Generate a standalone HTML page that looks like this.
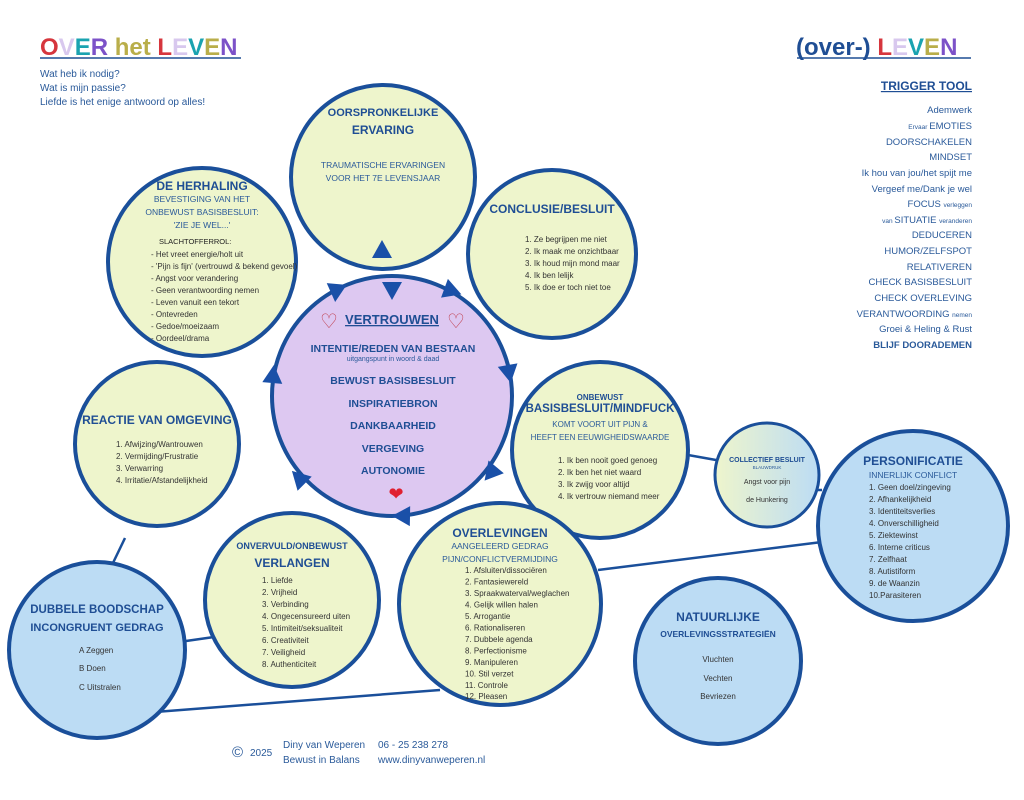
<!DOCTYPE html>
<html><head><meta charset="utf-8"><style>
html,body{margin:0;padding:0;background:#fff;}
svg{display:block;font-family:"Liberation Sans",sans-serif;}
.h{font-weight:bold;fill:#1f4e94;}
.t{fill:#333;}
.s{fill:#2a5a9a;}
</style></head><body>
<svg width="1024" height="800" viewBox="0 0 1024 800" xmlns="http://www.w3.org/2000/svg">
<g stroke="#1a4f9a" stroke-width="2.5">
<line x1="125" y1="538" x2="112" y2="565"/>
<line x1="186" y1="641" x2="214" y2="637"/>
<line x1="155" y1="712" x2="440" y2="690"/>
<line x1="598" y1="570" x2="822" y2="542"/>
<line x1="688" y1="455" x2="716" y2="460"/>
<line x1="817" y1="490" x2="822" y2="490"/>
</g>
<g stroke="#1a4f9a" stroke-width="4">
<circle cx="383" cy="177" r="92" fill="#eef5cc"/>
<circle cx="552" cy="254" r="84" fill="#eef5cc"/>
<circle cx="202" cy="262" r="94" fill="#eef5cc"/>
<circle cx="157" cy="444" r="82" fill="#eef5cc"/>
<circle cx="600" cy="450" r="88" fill="#eef5cc"/>
<circle cx="292" cy="600" r="87" fill="#eef5cc"/>
<circle cx="500" cy="604" r="101" fill="#eef5cc"/>
<circle cx="97" cy="650" r="88" fill="#bcdcf4"/>
<circle cx="913" cy="526" r="95" fill="#bcdcf4"/>
<circle cx="718" cy="661" r="83" fill="#bcdcf4"/>
<circle cx="392" cy="396" r="120" fill="#ddc8f1"/>
</g>
<defs><linearGradient id="g" x1="0" x2="1"><stop offset="0" stop-color="#eef5cc"/><stop offset="1" stop-color="#bcdcf4"/></linearGradient></defs>
<circle cx="767" cy="475" r="52" fill="url(#g)" stroke="#1a4f9a" stroke-width="3"/>
<g fill="#1a50a8">
<polygon points="382,240 372,258 392,258"/>
<g transform="translate(392,290) rotate(90)"><polygon points="10,0 -8,-10 -8,10"/></g>
<g transform="translate(336,292) rotate(95)"><polygon points="10,0 -8,-10 -8,10"/></g>
<g transform="translate(452,291) rotate(20)"><polygon points="10,0 -8,-10 -8,10"/></g>
<g transform="translate(509,373) rotate(80)"><polygon points="10,0 -8,-10 -8,10"/></g>
<g transform="translate(491,473) rotate(130)"><polygon points="10,0 -8,-10 -8,10"/></g>
<g transform="translate(402,516) rotate(181)"><polygon points="10,0 -8,-10 -8,10"/></g>
<g transform="translate(299,478) rotate(225)"><polygon points="10,0 -8,-10 -8,10"/></g>
<g transform="translate(273,375) rotate(275)"><polygon points="10,0 -8,-10 -8,10"/></g>
</g>
<g font-size="24" font-weight="bold">
<text x="40" y="55"><tspan fill="#d6363d">O</tspan><tspan fill="#d8c8ee">V</tspan><tspan fill="#1aa3b0">E</tspan><tspan fill="#7c52c8">R</tspan> <tspan fill="#b9ae4a">het</tspan> <tspan fill="#d6363d">L</tspan><tspan fill="#d8c8ee">E</tspan><tspan fill="#1aa3b0">V</tspan><tspan fill="#b9ae4a">E</tspan><tspan fill="#7c52c8">N</tspan></text>
<text x="796" y="55"><tspan fill="#1f4e94">(over-)</tspan> <tspan fill="#d6363d">L</tspan><tspan fill="#d8c8ee">E</tspan><tspan fill="#1aa3b0">V</tspan><tspan fill="#b9ae4a">E</tspan><tspan fill="#7c52c8">N</tspan></text>
</g>
<line x1="40" y1="58" x2="241" y2="58" stroke="#1f4e94" stroke-width="1.5"/>
<line x1="797" y1="58" x2="971" y2="58" stroke="#1f4e94" stroke-width="1.5"/>
<g class="s" font-size="10">
<text x="40" y="77">Wat heb ik nodig?</text>
<text x="40" y="91">Wat is mijn passie?</text>
<text x="40" y="105">Liefde is het enige antwoord op alles!</text>
</g>
<g class="s" text-anchor="end" font-size="9.5">
<text x="972" y="90" class="h" font-size="12" text-decoration="underline">TRIGGER TOOL</text>
<text x="972" y="113">Ademwerk</text>
<text x="972" y="129"><tspan font-size="6.5">Ervaar </tspan>EMOTIES</text>
<text x="972" y="145">DOORSCHAKELEN</text>
<text x="972" y="160">MINDSET</text>
<text x="972" y="176">Ik hou van jou/het spijt me</text>
<text x="972" y="192">Vergeef me/Dank je wel</text>
<text x="972" y="207">FOCUS <tspan font-size="6.5">verleggen</tspan></text>
<text x="972" y="223"><tspan font-size="6.5">van </tspan>SITUATIE <tspan font-size="6.5">veranderen</tspan></text>
<text x="972" y="238">DEDUCEREN</text>
<text x="972" y="254">HUMOR/ZELFSPOT</text>
<text x="972" y="270">RELATIVEREN</text>
<text x="972" y="285">CHECK BASISBESLUIT</text>
<text x="972" y="301">CHECK OVERLEVING</text>
<text x="972" y="317">VERANTWOORDING <tspan font-size="6.5">nemen</tspan></text>
<text x="972" y="332">Groei &amp; Heling &amp; Rust</text>
<text x="972" y="348" font-weight="bold">BLIJF DOORADEMEN</text>
</g>
<g text-anchor="middle">
<text x="383" y="116" class="h" font-size="11">OORSPRONKELIJKE</text>
<text x="383" y="134" class="h" font-size="12">ERVARING</text>
<text x="383" y="168" class="s" font-size="8.5">TRAUMATISCHE ERVARINGEN</text>
<text x="383" y="181" class="s" font-size="8.5">VOOR HET 7E LEVENSJAAR</text>

<text x="552" y="213" class="h" font-size="12">CONCLUSIE/BESLUIT</text>

<text x="202" y="190" class="h" font-size="12">DE HERHALING</text>
<text x="202" y="202" class="s" font-size="8.5">BEVESTIGING VAN HET</text>
<text x="202" y="215" class="s" font-size="8.5">ONBEWUST BASISBESLUIT:</text>
<text x="202" y="228" class="s" font-size="8.5">'ZIE JE WEL...'</text>

<text x="157" y="424" class="h" font-size="12">REACTIE VAN OMGEVING</text>

<text x="600" y="400" class="h" font-size="8">ONBEWUST</text>
<text x="600" y="412" class="h" font-size="11.5">BASISBESLUIT/MINDFUCK</text>
<text x="600" y="427" class="s" font-size="8">KOMT VOORT UIT PIJN &amp;</text>
<text x="600" y="440" class="s" font-size="8">HEEFT EEN EEUWIGHEIDSWAARDE</text>

<text x="292" y="549" class="h" font-size="9">ONVERVULD/ONBEWUST</text>
<text x="292" y="567" class="h" font-size="12">VERLANGEN</text>

<text x="500" y="537" class="h" font-size="12">OVERLEVINGEN</text>
<text x="500" y="549" class="s" font-size="8.5">AANGELEERD GEDRAG</text>
<text x="500" y="562" class="s" font-size="8.5">PIJN/CONFLICTVERMIJDING</text>

<text x="97" y="613" class="h" font-size="11.5">DUBBELE BOODSCHAP</text>
<text x="97" y="631" class="h" font-size="11">INCONGRUENT GEDRAG</text>

<text x="767" y="462" class="h" font-size="7">COLLECTIEF BESLUIT</text>
<text x="767" y="469" class="s" font-size="4.5">BLAUWDRUK</text>
<text x="767" y="484" class="t" font-size="7">Angst voor pijn</text>
<text x="767" y="502" class="t" font-size="7">de Hunkering</text>

<text x="913" y="465" class="h" font-size="12">PERSONIFICATIE</text>
<text x="913" y="478" class="s" font-size="8.5">INNERLIJK CONFLICT</text>

<text x="718" y="621" class="h" font-size="12">NATUURLIJKE</text>
<text x="718" y="637" class="h" font-size="8.5">OVERLEVINGSSTRATEGIËN</text>
<text x="718" y="662" class="t" font-size="8">Vluchten</text>
<text x="718" y="681" class="t" font-size="8">Vechten</text>
<text x="718" y="699" class="t" font-size="8">Bevriezen</text>

<text x="392" y="324" class="h" font-size="13" text-decoration="underline">VERTROUWEN</text>
<text x="393" y="352" class="h" font-size="10.5">INTENTIE/REDEN VAN BESTAAN</text>
<text x="393" y="361" class="s" font-size="7">uitgangspunt in woord &amp; daad</text>
<text x="393" y="384" class="h" font-size="10.5">BEWUST BASISBESLUIT</text>
<text x="393" y="407" class="h" font-size="10.5">INSPIRATIEBRON</text>
<text x="393" y="429" class="h" font-size="10.5">DANKBAARHEID</text>
<text x="393" y="452" class="h" font-size="10.5">VERGEVING</text>
<text x="393" y="474" class="h" font-size="10.5">AUTONOMIE</text>
<text x="396" y="500" font-size="18" fill="#e02030">❤</text>
<text x="329" y="328" font-size="20" fill="#c04050">♡</text>
<text x="456" y="328" font-size="20" fill="#c04050">♡</text>
</g>
<g class="t" font-size="8">
<text x="159" y="244" font-size="7.5" fill="#222">SLACHTOFFERROL:</text>
<text x="151" y="257">- Het vreet energie/holt uit</text>
<text x="151" y="269">- 'Pijn is fijn' (vertrouwd &amp; bekend gevoel)</text>
<text x="151" y="281">- Angst voor verandering</text>
<text x="151" y="293">- Geen verantwoording nemen</text>
<text x="151" y="305">- Leven vanuit een tekort</text>
<text x="151" y="317">- Ontevreden</text>
<text x="151" y="329">- Gedoe/moeizaam</text>
<text x="151" y="341">- Oordeel/drama</text>

<text x="525" y="242">1. Ze begrijpen me niet</text>
<text x="525" y="254">2. Ik maak me onzichtbaar</text>
<text x="525" y="266">3. Ik houd mijn mond maar</text>
<text x="525" y="278">4. Ik ben lelijk</text>
<text x="525" y="290">5. Ik doe er toch niet toe</text>

<text x="116" y="447">1. Afwijzing/Wantrouwen</text>
<text x="116" y="459">2. Vermijding/Frustratie</text>
<text x="116" y="471">3. Verwarring</text>
<text x="116" y="483">4. Irritatie/Afstandelijkheid</text>

<text x="558" y="463">1. Ik ben nooit goed genoeg</text>
<text x="558" y="475">2. Ik ben het niet waard</text>
<text x="558" y="487">3. Ik zwijg voor altijd</text>
<text x="558" y="499">4. Ik vertrouw niemand meer</text>

<text x="262" y="583">1. Liefde</text>
<text x="262" y="595">2. Vrijheid</text>
<text x="262" y="607">3. Verbinding</text>
<text x="262" y="619">4. Ongecensureerd uiten</text>
<text x="262" y="631">5. Intimiteit/seksualiteit</text>
<text x="262" y="643">6. Creativiteit</text>
<text x="262" y="655">7. Veiligheid</text>
<text x="262" y="667">8. Authenticiteit</text>

<text x="465" y="573">1. Afsluiten/dissociëren</text>
<text x="465" y="584.5">2. Fantasiewereld</text>
<text x="465" y="596">3. Spraakwaterval/weglachen</text>
<text x="465" y="607.5">4. Gelijk willen halen</text>
<text x="465" y="619">5. Arrogantie</text>
<text x="465" y="630.5">6. Rationaliseren</text>
<text x="465" y="642">7. Dubbele agenda</text>
<text x="465" y="653.5">8. Perfectionisme</text>
<text x="465" y="665">9. Manipuleren</text>
<text x="465" y="676.5">10. Stil verzet</text>
<text x="465" y="688">11. Controle</text>
<text x="465" y="699">12. Pleasen</text>

<text x="79" y="653">A Zeggen</text>
<text x="79" y="671">B Doen</text>
<text x="79" y="690">C Uitstralen</text>

<text x="869" y="490">1. Geen doel/zingeving</text>
<text x="869" y="502">2. Afhankelijkheid</text>
<text x="869" y="514">3. Identiteitsverlies</text>
<text x="869" y="526">4. Onverschilligheid</text>
<text x="869" y="538">5. Ziektewinst</text>
<text x="869" y="550">6. Interne criticus</text>
<text x="869" y="562">7. Zelfhaat</text>
<text x="869" y="574">8. Autistiform</text>
<text x="869" y="586">9. de Waanzin</text>
<text x="869" y="598">10.Parasiteren</text>
</g>
<g class="s" font-size="10">
<text x="232" y="757" font-size="15">©</text>
<text x="250" y="756">2025</text>
<text x="283" y="748">Diny van Weperen</text>
<text x="283" y="763">Bewust in Balans</text>
<text x="378" y="748">06 - 25 238 278</text>
<text x="378" y="763">www.dinyvanweperen.nl</text>
</g>
</svg>
</body></html>
